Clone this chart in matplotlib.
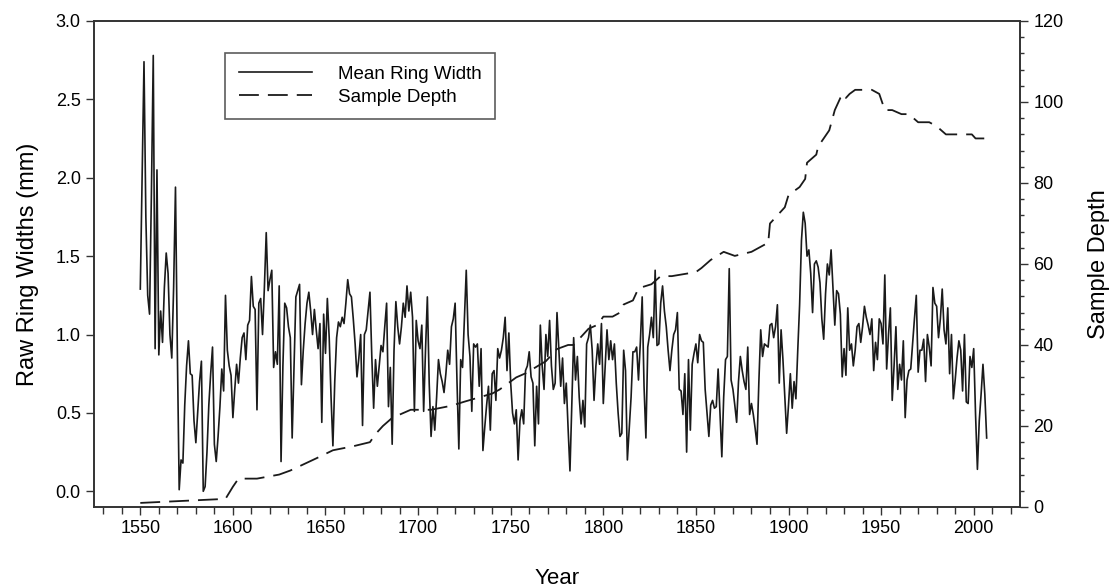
import matplotlib.pyplot as plt
import numpy as np
from matplotlib.ticker import MultipleLocator

# mean ring width, one value per year 1550-2007
years = np.arange(1550, 2008)
ring_width = [
    1.29, 2.00, 2.74, 1.75, 1.25, 1.13, 1.90, 2.78, 0.91, 2.05,
    0.87, 1.15, 0.95, 1.30, 1.52, 1.39, 1.00, 0.85, 1.30, 1.94,
    0.90, 0.01, 0.20, 0.18, 0.55, 0.80, 0.96, 0.75, 0.74, 0.45,
    0.31, 0.50, 0.70, 0.83, 0.00, 0.03, 0.25, 0.55, 0.75, 0.92,
    0.30, 0.19, 0.35, 0.54, 0.78, 0.64, 1.25, 0.90, 0.80, 0.74,
    0.47, 0.65, 0.81, 0.69, 0.85, 0.98, 1.01, 0.84, 1.06, 1.09,
    1.37, 1.18, 1.16, 0.52, 1.20, 1.23, 1.00, 1.30, 1.65, 1.28,
    1.35, 1.41, 0.79, 0.89, 0.81, 1.31, 0.19, 0.80, 1.20, 1.17,
    1.05, 0.98, 0.34, 0.80, 1.24, 1.28, 1.32, 0.68, 0.90, 1.07,
    1.20, 1.27, 1.15, 1.00, 1.16, 1.03, 0.91, 1.07, 0.44, 1.13,
    0.88, 1.23, 0.98, 0.60, 0.29, 0.70, 0.98, 1.08, 1.05, 1.11,
    1.07, 1.20, 1.35, 1.26, 1.24, 1.10, 0.94, 0.73, 0.85, 1.00,
    0.42, 1.00, 1.03, 1.15, 1.27, 0.86, 0.53, 0.84, 0.67, 0.80,
    0.93, 0.89, 1.05, 1.20, 0.54, 0.79, 0.30, 0.90, 1.21, 1.05,
    0.94, 1.05, 1.20, 1.11, 1.31, 1.15, 1.27, 1.11, 0.51, 1.09,
    0.96, 0.91, 1.06, 0.51, 0.90, 1.24, 0.69, 0.35, 0.54, 0.39,
    0.60, 0.84, 0.75, 0.70, 0.63, 0.75, 0.90, 0.81, 1.05, 1.10,
    1.20, 0.70, 0.27, 0.84, 0.79, 1.10, 1.41, 1.00, 0.86, 0.51,
    0.94, 0.92, 0.94, 0.67, 0.91, 0.26, 0.41, 0.55, 0.67, 0.39,
    0.75, 0.77, 0.58, 0.91, 0.85, 0.90, 0.98, 1.11, 0.77, 1.01,
    0.69, 0.50, 0.43, 0.52, 0.20, 0.45, 0.52, 0.43, 0.77, 0.80,
    0.89, 0.73, 0.69, 0.29, 0.67, 0.43, 1.06, 0.80, 0.65, 1.00,
    0.86, 1.09, 0.80, 0.65, 0.69, 1.14, 0.90, 0.67, 0.85, 0.56,
    0.69, 0.40, 0.13, 0.56, 0.98, 0.71, 0.86, 0.60, 0.43, 0.58,
    0.41, 0.94, 0.98, 1.06, 0.90, 0.58, 0.80, 0.94, 0.81, 1.07,
    0.56, 0.80, 1.03, 0.84, 0.96, 0.84, 0.94, 0.69, 0.50, 0.35,
    0.37, 0.90, 0.77, 0.20, 0.40, 0.60, 0.89, 0.89, 0.92, 0.71,
    0.95, 1.24, 0.67, 0.34, 0.92, 1.00, 1.11, 0.98, 1.41, 0.93,
    0.94, 1.20, 1.31, 1.15, 1.05, 0.90, 0.77, 0.90, 1.00, 1.03,
    1.14, 0.65, 0.64, 0.49, 0.75, 0.25, 0.84, 0.39, 0.81, 0.88,
    0.94, 0.82, 1.00, 0.96, 0.95, 0.65, 0.50, 0.35, 0.55, 0.58,
    0.53, 0.54, 0.78, 0.50, 0.22, 0.60, 0.84, 0.86, 1.42, 0.71,
    0.65, 0.55, 0.44, 0.70, 0.86, 0.77, 0.70, 0.65, 0.92, 0.49,
    0.56, 0.49, 0.40, 0.30, 0.70, 1.03, 0.86, 0.94, 0.93, 0.92,
    1.06, 1.07, 0.98, 1.05, 1.19, 0.69, 1.03, 0.84, 0.60, 0.37,
    0.55, 0.75, 0.53, 0.70, 0.59, 0.90, 1.19, 1.60, 1.78, 1.71,
    1.50, 1.54, 1.39, 1.14, 1.45, 1.47, 1.43, 1.33, 1.10, 0.97,
    1.26, 1.45, 1.38, 1.54, 1.30, 1.06, 1.28, 1.26, 1.13, 0.73,
    0.91, 0.74, 1.17, 0.90, 0.94, 0.80, 0.90, 1.05, 1.07, 0.95,
    1.05, 1.18, 1.11, 1.06, 1.00, 1.10, 0.77, 0.95, 0.84, 1.10,
    1.07, 0.94, 1.38, 0.78, 1.00, 1.17, 0.58, 0.80, 1.05, 0.65,
    0.81, 0.71, 0.96, 0.47, 0.71, 0.77, 0.78, 0.94, 1.10, 1.25,
    0.76, 0.90, 0.90, 0.97, 0.70, 1.00, 0.92, 0.80, 1.30, 1.20,
    1.18, 0.98, 1.10, 1.29, 1.03, 0.94, 1.17, 0.75, 1.00, 0.59,
    0.71, 0.85, 0.96, 0.90, 0.64, 1.00, 0.57, 0.56, 0.86, 0.79,
    0.91, 0.49, 0.14, 0.45, 0.62, 0.81, 0.62, 0.34,
]

# sample depth (number of series), read at the bends of the dashed line
depth_years = [1550, 1596, 1600, 1603, 1613, 1625, 1631, 1645, 1654, 1665,
               1674, 1677, 1681, 1686, 1696, 1707, 1718, 1725, 1740, 1744,
               1753, 1758, 1769, 1775, 1781, 1784, 1792, 1797, 1800, 1805,
               1809, 1811, 1816, 1819, 1826, 1831, 1837, 1850, 1853, 1858,
               1865, 1871, 1880, 1888, 1889, 1890, 1898, 1900, 1906, 1909,
               1910, 1915, 1916, 1919, 1922, 1925, 1928, 1930, 1931, 1933,
               1936, 1945, 1949, 1952, 1956, 1961, 1965, 1970, 1976, 1980,
               1985, 1990, 1999, 2001, 2007]
sample_depth = [1, 2, 5, 7, 7, 8, 9, 12, 14, 15,
                16, 18, 20, 22, 24, 24, 25, 26, 28, 29,
                32, 33, 36, 39, 40, 40, 44, 45, 47, 47,
                48, 50, 51, 54, 55, 57, 57, 58, 59, 61,
                63, 62, 63, 65, 65, 70, 74, 77, 79, 81,
                85, 87, 89, 91, 93, 98, 101, 102, 101, 102,
                103, 103, 102, 98, 98, 97, 97, 95, 95, 94,
                92, 92, 92, 91, 91]

plt.rcParams['font.family'] = ['Liberation Sans', 'DejaVu Sans']

fig = plt.figure(figsize=(11.15, 5.88), dpi=100)
ax = fig.add_axes([0.0843, 0.1378, 0.8305, 0.8265])
ax2 = ax.twinx()

l1, = ax.plot(years, ring_width, color='#1a1a1a', linewidth=1.2)
l2, = ax2.plot(depth_years, sample_depth, color='#1a1a1a', linewidth=1.3,
               dashes=(11, 5))

ax.set_xlim(1525, 2025)
ax.set_ylim(-0.1, 3.0)
ax2.set_ylim(0, 120)

ax.xaxis.set_major_locator(MultipleLocator(50))
ax.xaxis.set_minor_locator(MultipleLocator(10))
ax.yaxis.set_major_locator(MultipleLocator(0.5))
ax2.yaxis.set_major_locator(MultipleLocator(20))
ax2.yaxis.set_minor_locator(MultipleLocator(4))

for a in (ax, ax2):
    a.tick_params(which='major', direction='out', length=6, width=1,
                  labelsize=13, color='#333333')
    a.tick_params(which='minor', direction='out', length=5, width=1,
                  color='#333333')
    for s in a.spines.values():
        s.set_linewidth(1.2)
        s.set_color('#333333')
ax2.tick_params(which='minor', length=3)

ax.set_xlabel('Year', fontsize=16, labelpad=22)
ax.set_ylabel('Raw Ring Widths (mm)', fontsize=17, labelpad=12)
ax2.set_ylabel('Sample Depth', fontsize=17, labelpad=18)

leg = ax.legend([l1, l2], ['Mean Ring Width', 'Sample Depth'],
                loc='upper left', bbox_to_anchor=(0.142, 0.935),
                fontsize=13.5, frameon=True, fancybox=False,
                handlelength=3.9, handletextpad=1.4, borderpad=0.7,
                borderaxespad=0, labelspacing=0.3)
leg.get_frame().set_edgecolor('#333333')
leg.get_frame().set_linewidth(1.2)

fig.savefig('out.png', dpi=100)
